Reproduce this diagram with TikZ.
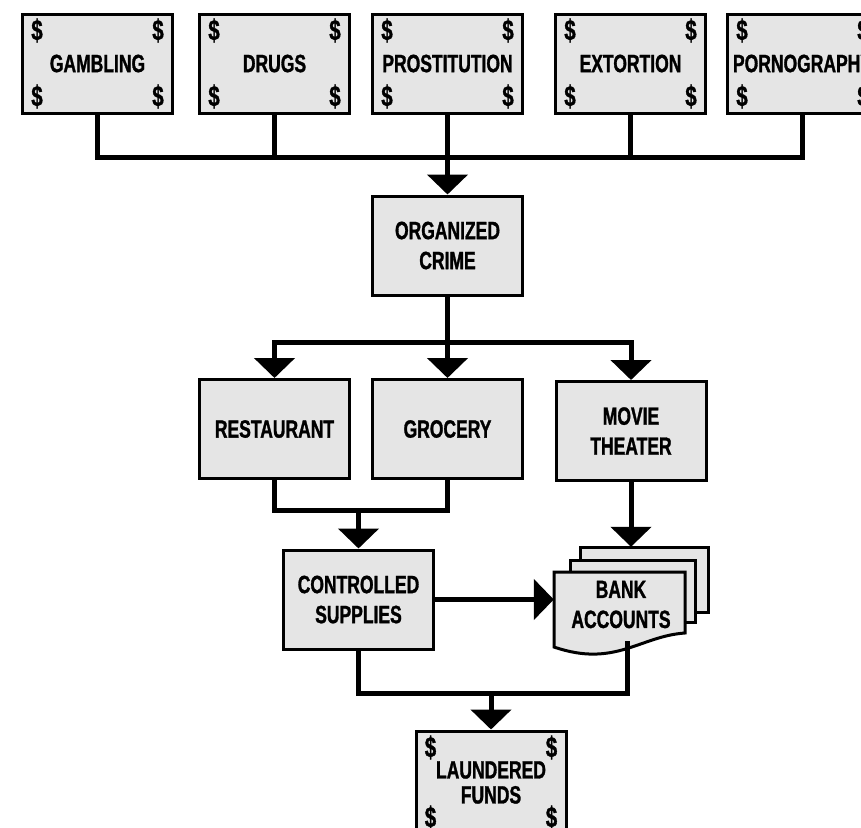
\documentclass[tikz,border=0pt]{standalone}
\usepackage{fontspec}
\newfontfamily\boxfont{Liberation Sans}[FakeStretch=0.7, FakeBold=1.2]
\usepackage{tikz}
\usetikzlibrary{arrows.meta,calc}

\begin{document}
\begin{tikzpicture}[
    x=1pt, y=-1pt,
    font=\boxfont\bfseries\fontsize{25}{30}\selectfont,
    box/.style={rectangle, draw=black, line width=3pt, fill=black!10, minimum width=150pt, minimum height=99pt, align=center, inner sep=0pt},
    sheet/.style={draw=black, line width=3pt, fill=black!10},
    dollar/.style={inner sep=0pt, font=\boxfont\bfseries\fontsize{29}{30}\selectfont},
    link/.style={line width=5pt, draw=black},
    arrow/.style={link, -{Triangle[width=40pt,length=20pt]}}
  ]
    \useasboundingbox (0,0) rectangle (861,827);
    \clip (0,0) rectangle (861,827);

    % sources of cash
    \foreach \n/\x/\t in {gamb/97.5/GAMBLING, drugs/274.5/DRUGS, prost/447.5/PROSTITUTION, extort/630.5/EXTORTION, porn/802.5/PORNOGRAPHY} {
      \node[box] (\n) at (\x,63.5) {\t};
    }
    \node[box] (crime) at (447.5,245.5) {ORGANIZED\\CRIME};
    \node[box] (rest) at (274.5,429) {RESTAURANT};
    \node[box] (groc) at (447.5,429) {GROCERY};
    \node[box] (movie) at (631,431) {MOVIE\\THEATER};
    \node[box] (supply) at (358.5,599.5) {CONTROLLED\\SUPPLIES};
    \node[box, minimum height=103pt, font=\boxfont\bfseries\fontsize{25}{25}\selectfont] (laund) at (491,782.5) {LAUNDERED\\FUNDS};

    % stack of bank sheets
    \node[minimum width=154pt, minimum height=106pt, inner sep=0pt] (bank) at (631,600) {};
    \draw[sheet] (580,547) rectangle (708,612);
    \draw[sheet] (570,560) rectangle (695,622);
    \draw[sheet] (554,572) -- (685,572) -- (685,633) .. controls (640,636) and (615,668) .. (554,647) -- cycle;
    \node[align=center, inner sep=0pt] (bank-text) at (621,604.5) {BANK\\ACCOUNTS};
    \coordinate (bankfoot) at (627,641);

    % dollar signs in the corners
    \foreach \n in {gamb,drugs,prost,extort,porn,laund} {
      \foreach \c/\a/\dx/\dy in {nw/north west/1/1, ne/north east/-1/1, sw/south west/1/-1, se/south east/-1/-1} {
        \node[dollar] (\n-\c) at ($(\n.\a)+(16*\dx,18*\dy)$) {\$};
      }
    }

    \coordinate (bus) at (447.5,157);
    \coordinate (split) at (447.5,342);
    \coordinate (join) at (358.5,510);
    \coordinate (merge) at (491,693);

    \foreach \n in {gamb,drugs,prost,extort,porn} {
      \draw[link] (\n) |- (bus);
    }
    \draw[arrow] (bus) -- (crime);
    \draw[link] (crime) -- (split);
    \draw[arrow] (split) -| (rest);
    \draw[arrow] (split) -- (groc);
    \draw[arrow] (split) -| (movie);
    \draw[link] (rest) |- (join);
    \draw[link] (groc) |- (join);
    \draw[arrow] (join) -- (supply);
    \draw[arrow] (movie) -- (movie |- bank.north);
    \draw[arrow] (supply) -- (supply -| bank.west);
    \draw[link] (supply) |- (merge);
    \draw[link] (bankfoot) |- (merge);
    \draw[arrow] (merge) -- (laund);
  \end{tikzpicture}
\end{document}
